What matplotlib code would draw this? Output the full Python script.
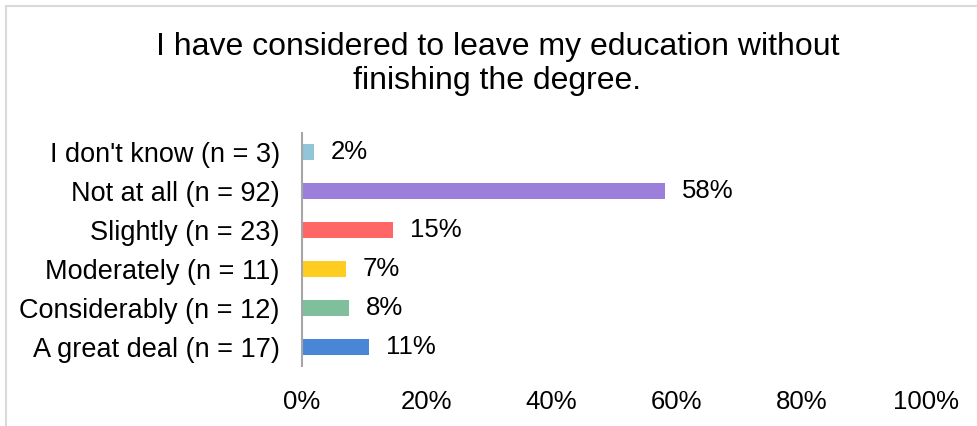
import matplotlib
matplotlib.use("Agg")
import matplotlib.pyplot as plt
from matplotlib.patches import Rectangle

plt.rcParams["font.family"] = ["Liberation Sans", "DejaVu Sans"]

# answers, top to bottom as shown
categories = ["I don't know (n = 3)", "Not at all (n = 92)", "Slightly (n = 23)",
              "Moderately (n = 11)", "Considerably (n = 12)", "A great deal (n = 17)"]
shares = [1.9, 58.2, 14.6, 7.0, 7.6, 10.8]
share_labels = ["2%", "58%", "15%", "7%", "8%", "11%"]
bar_colors = ["#92C5D8", "#9B7FDB", "#FF6666", "#FFCC22", "#7FBF9C", "#4A86D8"]
x_ticks = [0, 20, 40, 60, 80, 100]
title = "I have considered to leave my education without\nfinishing the degree."

fig = plt.figure(figsize=(9.77, 4.26), dpi=100)

# light grey frame, cut off on the right and bottom like the original
fig.patches.append(Rectangle((6 / 977, -0.1), 1.2, 1 - 6 / 426 + 0.1,
                             transform=fig.transFigure, fill=False,
                             edgecolor="#D9D9D9", linewidth=1.5))

ax = fig.add_axes([302 / 977, 60 / 426, 624 / 977, 233 / 426])
ypos = list(range(len(categories)))
ax.barh(ypos, shares, height=0.41, color=bar_colors)

for y, val, lab in zip(ypos, shares, share_labels):
    ax.annotate(lab, (val, y), xytext=(12, 0), textcoords="offset points",
                va="center", ha="left", fontsize=18.5)

ax.set_ylim(len(categories) - 0.5, -0.5)
ax.set_xlim(0, 100)
ax.set_yticks(ypos)
ax.set_yticklabels(categories)
ax.set_xticks(x_ticks)
ax.set_xticklabels([f"{t}%" for t in x_ticks])
ax.tick_params(axis="y", length=0, pad=16, labelsize=19.5)
ax.tick_params(axis="x", length=0, pad=17, labelsize=18.5)

for side in ["top", "right", "bottom"]:
    ax.spines[side].set_visible(False)
ax.spines["left"].set_color("#A6A6A6")
ax.spines["left"].set_linewidth(1.5)

fig.text(0.509, 1 - 64 / 426, title, ha="center", va="center",
         fontsize=23, linespacing=1.15)

fig.savefig("out.png", dpi=100, facecolor="white")
